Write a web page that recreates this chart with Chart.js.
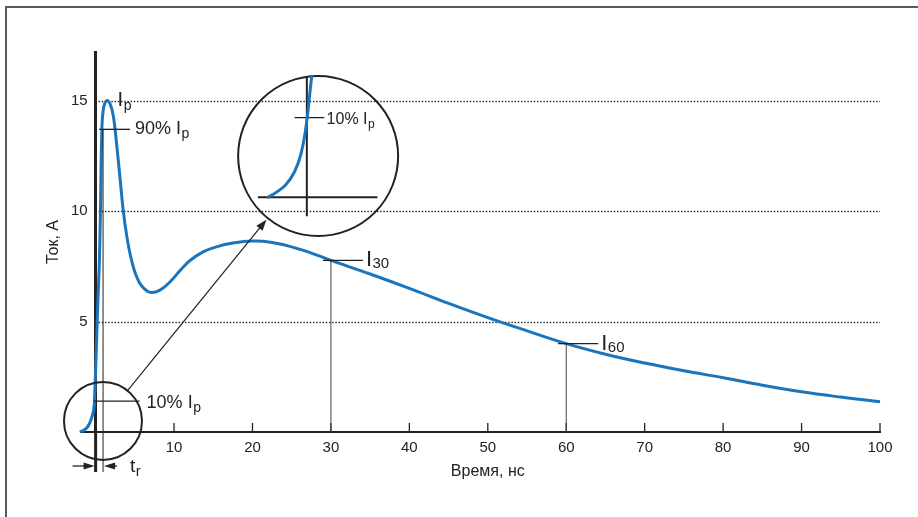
<!DOCTYPE html>
<html>
<head>
<meta charset="utf-8">
<script src="https://cdn.jsdelivr.net/npm/chart.js@4/dist/chart.umd.min.js"></script>
<style>
  body { margin: 0; background: #fff; }
  #wrap { position: relative; width: 918px; height: 517px; overflow: hidden; }
  #frame { position: absolute; left: 5px; top: 6px; right: -4px; bottom: -4px;
           border-top: 2px solid #5a5a5a; border-left: 2px solid #5a5a5a; }
  canvas { position: absolute; left: 0; top: 0; }
</style>
</head>
<body>
<div id="wrap">
  <div id="frame"></div>
  <canvas id="esdPulse" width="918" height="517"></canvas>
</div>
<script>
const blue = "#1b75bc";
const ink = "#222";
const fontFamily = '"Liberation Sans", Arial, sans-serif';

// discharge current waveform
const timeNs = [-2, -1.4, -0.9, -0.5, -0.25, -0.15, 0, 0.15, 0.3, 0.47,
    0.62, 0.78, 0.98, 1.4, 1.85, 2.26, 2.69, 3.11, 3.5, 3.96,
    4.5, 5.2, 5.9, 6.94, 8.2, 9.5, 10.8, 12, 13.7, 15.4,
    17.5, 20, 22.5, 25, 27.5, 30, 35, 40, 45, 50,
    55, 60, 65, 70, 75, 80, 85, 90, 95, 100];
const currentA = [0, 0.1, 0.3, 0.65, 1.0, 1.4, 2.8, 4.4, 6.0, 7.6,
    10.0, 13.4, 14.6, 15.0, 14.85, 14.3, 13.0, 11.5, 10.1, 8.9,
    7.9, 7.05, 6.6, 6.32, 6.42, 6.8, 7.32, 7.75, 8.15, 8.38,
    8.55, 8.64, 8.58, 8.38, 8.1, 7.77, 7.15, 6.5, 5.82, 5.18,
    4.58, 4.0, 3.52, 3.12, 2.77, 2.46, 2.12, 1.82, 1.58, 1.37];

const xTicks = [10, 20, 30, 40, 50, 60, 70, 80, 90, 100];
const yTicks = [5, 10, 15];

// magnified front edge shown in the round inset
const insetTimeNs = [-2.05, -1.4, -0.88, -0.44, -0.18, 0.03, 0.17, 0.26];
const insetCurrentA = [0, 0.13, 0.32, 0.63, 1.0, 1.5, 2.0, 2.28];

// marked points: [time, current]
const peak = [1.4, 15.0];
const rise10 = [0, 1.4];
const rise90 = [0.95, 13.7];
const i30 = [30, 7.77];
const i60 = [60, 4.0];
const lensSmall = [0.94, 0.5];
const lensBig = [28.37, 12.49];
const insetOrigin = [26.93, 10.63];
const insetZoom = 2.4;
const timeStart = -2;

function sub(ctx, x, y, main, small, size, subSize, drop) {
    ctx.font = size + "px " + fontFamily;
    ctx.fillText(main, x, y);
    const w = ctx.measureText(main).width;
    ctx.font = subSize + "px " + fontFamily;
    ctx.fillText(small, x + w + 0.5, y + drop);
}

function line(ctx, x1, y1, x2, y2) {
    ctx.beginPath();
    ctx.moveTo(x1, y1);
    ctx.lineTo(x2, y2);
    ctx.stroke();
}

function arrow(ctx, x1, y1, x2, y2, head, half) {
    const a = Math.atan2(y2 - y1, x2 - x1);
    const c = Math.cos(a), s = Math.sin(a);
    line(ctx, x1, y1, x2 - c * head * 0.7, y2 - s * head * 0.7);
    ctx.beginPath();
    ctx.moveTo(x2, y2);
    ctx.lineTo(x2 - head * c + half * s, y2 - head * s - half * c);
    ctx.lineTo(x2 - head * c - half * s, y2 - head * s + half * c);
    ctx.closePath();
    ctx.fill();
}

const annotations = {
    id: "annotations",
    beforeDatasetsDraw(chart) {
        const {ctx, chartArea, scales: {x, y}} = chart;
        const x0 = chartArea.left;
        ctx.save();
        // dotted grid
        ctx.strokeStyle = "#222";
        ctx.lineWidth = 1.4;
        ctx.setLineDash([1.4, 1.8]);
        for (const v of yTicks) {
            const yy = Math.round(y.getPixelForValue(v)) + 0.5;
            line(ctx, x0 + 3, yy, chartArea.right, yy);
        }
        ctx.setLineDash([]);
        // inner ticks on the time axis
        ctx.strokeStyle = ink;
        ctx.lineWidth = 1.3;
        for (const t of x.ticks) {
            const xx = x.getPixelForValue(t.value);
            line(ctx, xx, chartArea.bottom - 9, xx, chartArea.bottom);
        }
        // time axis carried left of zero, current axis carried down as the 10% marker of t_r
        ctx.lineWidth = 2;
        line(ctx, x.getPixelForValue(timeStart), chartArea.bottom, x0, chartArea.bottom);
        ctx.lineWidth = 3;
        line(ctx, x0, chartArea.bottom, x0, chartArea.bottom + 40);
        ctx.restore();
    },
    afterDatasetsDraw(chart) {
        const {ctx, chartArea, scales: {x, y}} = chart;
        const P = (p) => [x.getPixelForValue(p[0]), y.getPixelForValue(p[1])];
        const base = chartArea.bottom;
        ctx.save();
        ctx.fillStyle = ink;
        ctx.strokeStyle = ink;
        ctx.textBaseline = "alphabetic";

        // I_p
        const [pk, pky] = P(peak);
        sub(ctx, pk + 11, pky + 5, "I", "p", 20, 14, 4);

        // 90 % level and end of the rise time
        const [r9x, r9y] = P(rise90);
        ctx.lineWidth = 1.3;
        line(ctx, r9x - 4, r9y, r9x + 27, r9y);
        ctx.lineWidth = 1;
        line(ctx, r9x, r9y, r9x, base + 40);
        sub(ctx, r9x + 32, r9y + 5, "90% I", "p", 18, 14, 4);

        // 10 % level
        const [r1x, r1y] = P(rise10);
        ctx.lineWidth = 1.3;
        line(ctx, r1x - 2, r1y, r1x + 44, r1y);
        sub(ctx, r1x + 51, r1y + 7, "10% I", "p", 18, 14, 4);

        // t_r arrows
        const ay = base + 34;
        arrow(ctx, r1x - 23, ay, r1x - 1, ay, 11, 3.5);
        arrow(ctx, r9x + 14, ay, r9x + 1, ay, 11, 3.5);
        sub(ctx, r9x + 27, ay + 6, "t", "r", 19, 15, 4);

        // I30 / I60
        for (const [p, s] of [[i30, "30"], [i60, "60"]]) {
            const [mx, my] = P(p);
            ctx.lineWidth = 1;
            ctx.strokeStyle = "#444";
            line(ctx, mx, my, mx, base);
            ctx.strokeStyle = ink;
            ctx.lineWidth = 1.3;
            line(ctx, mx - 8, my, mx + 32, my);
            sub(ctx, mx + 35, my + 6, "I", s, 22, 15, 2);
        }

        // magnifier circles and pointer
        const [sx, sy] = P(lensSmall);
        const [bx, by] = P(lensBig);
        const rs = 39, rb = 80;
        ctx.lineWidth = 2;
        ctx.beginPath(); ctx.arc(sx, sy, rs, 0, Math.PI * 2); ctx.stroke();
        ctx.beginPath(); ctx.arc(bx, by, rb, 0, Math.PI * 2); ctx.stroke();
        const d = Math.hypot(bx - sx, by - sy);
        const ux = (bx - sx) / d, uy = (by - sy) / d;
        ctx.lineWidth = 1.2;
        arrow(ctx, sx + ux * rs, sy + uy * rs, bx - ux * (rb + 2), by - uy * (rb + 2), 11, 4);

        // inset content, magnified through the same scales
        const [ox, oy] = P(insetOrigin);
        const x0 = x.getPixelForValue(0), y0 = y.getPixelForValue(0);
        const Q = (t, a) => [ox + (x.getPixelForValue(t) - x0) * insetZoom,
                             oy + (y.getPixelForValue(a) - y0) * insetZoom];
        ctx.lineWidth = 2;
        let a = Q(-2.6, 0), b = Q(3.75, 0);
        line(ctx, a[0], a[1], b[0], b[1]);
        a = Q(0, -0.36); b = Q(0, 2.27);
        line(ctx, a[0], a[1], b[0], b[1]);
        ctx.lineWidth = 1.3;
        a = Q(-0.65, 1.5); b = Q(0.93, 1.5);
        line(ctx, a[0], a[1], b[0], b[1]);
        const lab = Q(1.05, 1.5);
        sub(ctx, lab[0], lab[1] + 6, "10% I", "p", 16, 12, 4);

        const pts = insetTimeNs.map((t, i) => Q(t, insetCurrentA[i]));
        ctx.strokeStyle = blue;
        ctx.lineWidth = 3;
        ctx.lineCap = "round";
        ctx.beginPath();
        ctx.moveTo(pts[0][0], pts[0][1]);
        for (let i = 1; i < pts.length - 1; i++) {
            const mx = (pts[i][0] + pts[i + 1][0]) / 2;
            const my = (pts[i][1] + pts[i + 1][1]) / 2;
            ctx.quadraticCurveTo(pts[i][0], pts[i][1], mx, my);
        }
        const last = pts[pts.length - 1];
        ctx.lineTo(last[0], last[1]);
        ctx.stroke();
        ctx.restore();
    }
};

new Chart(document.getElementById("esdPulse"), {
    type: "line",
    data: {
        datasets: [{
            data: timeNs.map((t, i) => ({x: t, y: currentA[i]})),
            borderColor: blue,
            borderWidth: 3,
            pointRadius: 0,
            tension: 0.4,
            clip: false,
            fill: false,
        }],
    },
    options: {
        responsive: false,
        animation: false,
        events: [],
        layout: {padding: {left: 10, top: 52, right: 38, bottom: 20}},
        plugins: {legend: {display: false}, tooltip: {enabled: false}},
        scales: {
            x: {
                type: "linear",
                bounds: "data",
                // range set here (not via min/max) so the points before t = 0 are still drawn
                afterDataLimits: (s) => { s.min = 0; s.max = 100; },
                afterBuildTicks: (s) => { s.ticks = xTicks.map(v => ({value: v})); },
                afterFit: (s) => { s.height = 65; },
                grid: {display: true, drawOnChartArea: false, drawTicks: false},
                border: {display: true, color: ink, width: 2},
                ticks: {padding: 7, color: ink, maxRotation: 0, autoSkip: false,
                        font: {family: fontFamily, size: 15}},
                title: {display: true, text: "Время, нс", color: ink,
                        font: {family: fontFamily, size: 16}, padding: {top: 0, bottom: 16}},
            },
            y: {
                min: 0,
                max: 17.2,
                afterBuildTicks: (s) => { s.ticks = yTicks.map(v => ({value: v})); },
                afterFit: (s) => { s.width = 85.6; },
                grid: {display: true, drawOnChartArea: false, drawTicks: false},
                border: {display: true, color: ink, width: 3},
                ticks: {padding: 8, color: ink, font: {family: fontFamily, size: 15}},
                title: {display: true, text: "Ток, А", color: ink,
                        font: {family: fontFamily, size: 16}, padding: {top: 34, bottom: 0}},
            },
        },
    },
    plugins: [annotations],
});
</script>
</body>
</html>
